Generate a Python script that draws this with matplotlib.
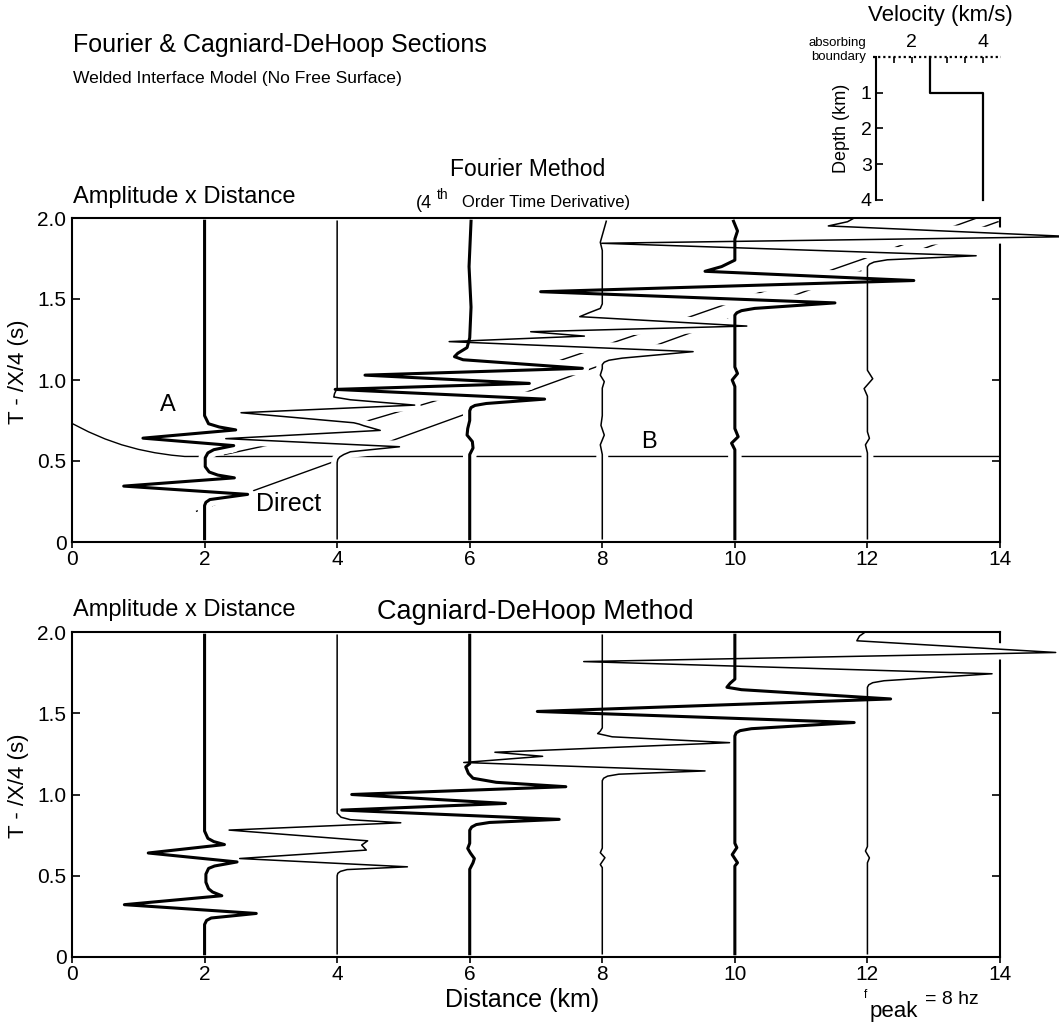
import matplotlib
matplotlib.use('Agg')
import matplotlib.pyplot as plt

plt.rcParams['font.family'] = ['Liberation Sans', 'DejaVu Sans']

W, H = 1059, 1023

# Fourier section traces: time (s) and plotted position (km)
F2_T = [0.02, 0.225, 0.245, 0.262, 0.294, 0.345, 0.396, 0.413, 0.432, 0.465, 0.52, 0.55, 0.57, 0.595, 0.641, 0.692, 0.71, 0.73, 0.78, 1.98]
F2_X = [2.0, 2.0, 2.02, 2.08, 2.65, 0.78, 2.45, 2.2, 2.07, 2.01, 2.01, 2.05, 2.14, 2.44, 1.07, 2.47, 2.22, 2.06, 2.0, 2.0]
F4_T = [0.02, 0.49, 0.51, 0.525, 0.54, 0.557, 0.588, 0.638, 0.689, 0.718, 0.728, 0.736, 0.798, 0.845, 0.878, 0.895, 0.915, 0.95, 1.98]
F4_X = [4.0, 4.0, 4.01, 4.04, 4.1, 4.2, 4.94, 2.32, 4.65, 4.40, 4.33, 4.25, 2.55, 5.17, 4.2, 3.95, 3.96, 4.0, 4.0]
F6_T = [0.02, 0.54, 0.58, 0.62, 0.66, 0.70, 0.75, 0.81, 0.83, 0.843, 0.855, 0.882, 0.942, 0.979, 1.03, 1.072, 1.125, 1.144, 1.165, 1.2, 1.26, 1.45, 1.7, 1.98]
F6_X = [6.0, 6.0, 6.05, 6.04, 5.96, 5.97, 6.0, 6.0, 6.02, 6.08, 6.25, 7.13, 3.97, 6.90, 4.42, 7.70, 5.9, 5.77, 5.82, 5.96, 6.0, 6.02, 5.99, 6.02]
F8_T = [0.02, 0.54, 0.60, 0.66, 0.72, 0.78, 0.95, 0.99, 1.03, 1.07, 1.095, 1.11, 1.122, 1.135, 1.175, 1.237, 1.271, 1.298, 1.333, 1.391, 1.415, 1.442, 1.47, 1.8, 1.85, 1.98]
F8_X = [8.0, 8.0, 7.97, 8.03, 7.98, 8.0, 8.0, 8.03, 7.97, 8.0, 8.0, 8.03, 8.1, 8.3, 9.37, 5.69, 7.73, 6.92, 10.18, 7.66, 7.8, 7.97, 8.0, 8.0, 7.97, 8.06]
F10_T = [0.02, 0.57, 0.61, 0.65, 0.70, 0.96, 1.0, 1.04, 1.08, 1.40, 1.415, 1.428, 1.442, 1.476, 1.545, 1.614, 1.671, 1.70, 1.74, 1.87, 1.92, 1.98]
F10_X = [10.0, 10.0, 9.95, 10.05, 10.0, 10.0, 9.96, 10.04, 10.0, 10.0, 10.03, 10.1, 10.3, 11.51, 7.07, 12.70, 9.55, 9.8, 10.0, 10.0, 10.04, 9.98]
F12_T = [0.02, 0.55, 0.60, 0.64, 0.68, 0.90, 0.947, 1.008, 1.06, 1.70, 1.715, 1.728, 1.742, 1.767, 1.844, 1.885, 1.951, 1.977, 2.0]
F12_X = [12.0, 12.0, 11.97, 12.03, 12.0, 12.0, 11.95, 12.08, 12.0, 12.0, 12.03, 12.1, 12.3, 13.64, 7.99, 15.1, 11.41, 11.7, 11.8]

# Cagniard-DeHoop section traces
C2_T = [0.02, 0.20, 0.225, 0.24, 0.268, 0.322, 0.377, 0.40, 0.42, 0.46, 0.51, 0.545, 0.56, 0.585, 0.64, 0.692, 0.71, 0.73, 0.775, 1.98]
C2_X = [2.0, 2.0, 2.03, 2.1, 2.78, 0.79, 2.26, 2.12, 2.06, 2.02, 2.02, 2.06, 2.15, 2.49, 1.15, 2.30, 2.14, 2.05, 2.0, 2.0]
C4_T = [0.02, 0.50, 0.515, 0.527, 0.538, 0.555, 0.606, 0.658, 0.689, 0.715, 0.781, 0.826, 0.845, 0.86, 0.885, 1.98]
C4_X = [4.0, 4.0, 4.01, 4.05, 4.15, 5.06, 2.53, 4.44, 4.37, 4.46, 2.37, 4.96, 4.2, 4.06, 4.0, 4.0]
C6_T = [0.02, 0.54, 0.58, 0.606, 0.64, 0.668, 0.70, 0.78, 0.80, 0.815, 0.828, 0.847, 0.904, 0.945, 1.0, 1.048, 1.075, 1.10, 1.13, 1.17, 1.19, 1.98]
C6_X = [6.0, 6.0, 6.05, 6.07, 6.01, 5.97, 6.0, 6.0, 6.03, 6.1, 6.3, 7.35, 4.07, 6.54, 4.22, 7.45, 6.4, 6.05, 5.98, 5.94, 6.0, 6.0]
C8_T = [0.02, 0.55, 0.569, 0.611, 0.642, 0.67, 1.085, 1.10, 1.113, 1.125, 1.145, 1.197, 1.235, 1.26, 1.319, 1.355, 1.375, 1.39, 1.41, 1.98]
C8_X = [8.0, 8.0, 7.97, 8.04, 7.97, 8.0, 8.0, 8.02, 8.08, 8.25, 9.55, 5.91, 7.1, 6.38, 9.92, 8.15, 7.93, 7.97, 8.0, 8.0]
C10_T = [0.02, 0.56, 0.58, 0.63, 0.673, 0.70, 1.36, 1.38, 1.393, 1.405, 1.443, 1.511, 1.588, 1.645, 1.66, 1.685, 1.71, 1.98]
C10_X = [10.0, 10.0, 10.04, 9.96, 10.03, 10.0, 10.0, 10.02, 10.08, 10.25, 11.8, 7.02, 12.35, 10.1, 9.88, 9.93, 10.0, 10.0]
C12_T = [0.02, 0.58, 0.61, 0.652, 0.68, 1.66, 1.675, 1.688, 1.70, 1.743, 1.818, 1.874, 1.946, 1.975, 1.995]
C12_X = [12.0, 12.0, 12.03, 11.97, 12.0, 12.0, 12.02, 12.08, 12.25, 13.88, 7.72, 14.84, 11.84, 11.88, 11.95]

# arrival curves on the Fourier section
HEAD_X = [0.0, 0.25, 0.5, 0.75, 1.0, 1.25, 1.5, 1.7, 14.0]
HEAD_T = [0.732, 0.68, 0.636, 0.600, 0.572, 0.551, 0.536, 0.528, 0.528]
DIRECT_X = [1.88, 13.97]
DIRECT_T = [0.19, 1.977]
REFL_X = [2.3, 3.91, 5.04, 6.03, 7.38, 8.2, 9.37, 10.31, 11.31, 12.11, 12.66, 13.57, 13.65]
REFL_T = [0.54, 0.681, 0.818, 0.938, 1.123, 1.236, 1.397, 1.531, 1.658, 1.772, 1.854, 1.988, 2.0]

# velocity model
DEPTH = [0, 1, 1, 4]
VEL = [2.5, 2.5, 4.0, 4.0]

THICK, THIN = 2.2, 1.1


def px(x):
    return x / W


def py(y):
    return 1 - y / H


fig = plt.figure(figsize=(W / 100, H / 100), dpi=100)


def section(top, bottom, traces):
    ax = fig.add_axes([px(72), py(bottom), px(1000 - 72), (bottom - top) / H])
    ax.set_xlim(0, 14)
    ax.set_ylim(0, 2)
    # white halo first so crossing arrival lines get broken
    for t, x, lw in traces:
        ax.plot(x, t, color='white', lw=lw + 7.5, solid_capstyle='butt',
                zorder=2, clip_on=False)
    for t, x, lw in traces:
        ax.plot(x, t, color='black', lw=lw, zorder=3, clip_on=False)
    ax.set_xticks(range(0, 15, 2))
    ax.set_yticks([0, 0.5, 1.0, 1.5, 2.0])
    ax.set_yticklabels(['0', '0.5', '1.0', '1.5', '2.0'])
    ax.tick_params(axis='x', direction='out', length=4, width=1.2, labelsize=15, pad=2)
    ax.tick_params(axis='y', direction='in', length=6, width=1.2, labelsize=15,
                   right=True, pad=4)
    for s in ax.spines.values():
        s.set_linewidth(1.5)
    ax.spines['right'].set_zorder(1.9)
    ax.spines['top'].set_zorder(4)
    return ax


top = section(218, 542, [(F2_T, F2_X, THICK), (F4_T, F4_X, THIN), (F6_T, F6_X, THICK),
                         (F8_T, F8_X, THIN), (F10_T, F10_X, THICK), (F12_T, F12_X, THIN)])
top.plot(HEAD_X, HEAD_T, color='black', lw=1.0, zorder=1)
top.plot(DIRECT_X, DIRECT_T, color='black', lw=1.0, zorder=1)
top.plot(REFL_X, REFL_T, color='black', lw=1.0, zorder=1)
top.text(1.44, 0.846, 'A', fontsize=17, ha='center', va='center', zorder=5)
top.text(8.7, 0.615, 'B', fontsize=17, ha='center', va='center', zorder=5)
top.text(3.27, 0.232, 'Direct', fontsize=18, ha='center', va='center', zorder=5)

bot = section(632, 957, [(C2_T, C2_X, THICK), (C4_T, C4_X, THIN), (C6_T, C6_X, THICK),
                         (C8_T, C8_X, THIN), (C10_T, C10_X, THICK), (C12_T, C12_X, THIN)])

for yc in (372, 786):
    fig.text(px(19), py(yc), 'T - /X/4 (s)', rotation=90, fontsize=16,
             ha='center', va='center')

# headings
fig.text(px(73), py(45), 'Fourier & Cagniard-DeHoop Sections', fontsize=18,
         ha='left', va='center')
fig.text(px(73), py(78), 'Welded Interface Model (No Free Surface)', fontsize=12.6,
         ha='left', va='center')
fig.text(px(528), py(170), 'Fourier Method', fontsize=16.5, ha='center', va='center')
fig.text(px(416), py(203), '(4', fontsize=13, ha='left', va='center')
fig.text(px(437), py(195), 'th', fontsize=10, ha='left', va='center')
fig.text(px(462), py(203), 'Order Time Derivative)', fontsize=12, ha='left', va='center')
fig.text(px(73), py(197), 'Amplitude x Distance', fontsize=17, ha='left', va='center')
fig.text(px(73), py(610), 'Amplitude x Distance', fontsize=17, ha='left', va='center')
fig.text(px(535), py(612), 'Cagniard-DeHoop Method', fontsize=19.5, ha='center', va='center')
fig.text(px(522), py(1000), 'Distance (km)', fontsize=18, ha='center', va='center')
fig.text(px(864), py(995), 'f', fontsize=8.5, ha='left', va='center')
fig.text(px(870), py(1011), 'peak', fontsize=16, ha='left', va='center')
fig.text(px(925), py(999), '= 8 hz', fontsize=14, ha='left', va='center')

# velocity-depth inset
vax = fig.add_axes([px(876), py(200), px(1001 - 876), (200 - 56.7) / H])
vax.set_xlim(1.0, 4.5)
vax.set_ylim(4, 0)
vax.plot(VEL, DEPTH, color='black', lw=1.6, clip_on=False)
vax.plot([0.92, 4.5], [0, 0], color='black', lw=1.6, ls=(0, (1, 1.3)), clip_on=False)
for side in ('top', 'right', 'bottom'):
    vax.spines[side].set_visible(False)
vax.spines['left'].set_linewidth(1.5)
vax.xaxis.tick_top()
vax.set_xticks([1.5, 2.0, 2.5, 3.0, 3.5, 4.0])
vax.set_xticklabels(['', '2', '', '', '', '4'])
vax.set_yticks([1, 2, 3, 4])
vax.set_yticklabels(['1', '2', '3', '4'])
vax.tick_params(axis='x', direction='in', length=4, width=1.2, labelsize=14, pad=4)
vax.tick_params(axis='y', direction='in', length=5, width=1.2, labelsize=14, pad=3)
fig.text(px(940), py(15), 'Velocity (km/s)', fontsize=16, ha='center', va='center')
fig.text(px(842), py(128), 'Depth (km)', fontsize=13, rotation=90, ha='center', va='center')
fig.text(px(866), py(43), 'absorbing', fontsize=9.5, ha='right', va='center')
fig.text(px(866), py(57), 'boundary', fontsize=9.5, ha='right', va='center')

fig.savefig('out.png', dpi=100)
